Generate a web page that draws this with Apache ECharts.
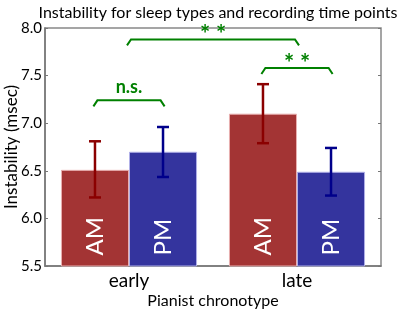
<!DOCTYPE html>
<html>
<head>
<meta charset="utf-8">
<script src="https://cdn.jsdelivr.net/npm/echarts@6/dist/echarts.min.js"></script>
<style>
  html, body { margin: 0; padding: 0; background: #fff; }
  #chart { width: 397px; height: 313px; }
</style>
</head>
<body>
<div id="chart"></div>
<script>
// Data
const categories = ['early', 'late'];
const amValues = [6.51, 7.10];
const pmValues = [6.70, 6.49];
const amErrLow = [6.22, 6.79];
const amErrHigh = [6.81, 7.41];
const pmErrLow = [6.435, 6.24];
const pmErrHigh = [6.96, 6.74];
const yTicks = [5.5, 6.0, 6.5, 7.0, 7.5, 8.0];

// significance brackets: from/to are positions on the category scale (0 = early, 1 = late)
const brackets = [
    { from: -0.2, to: 0.2, y: 7.24, label: 'n.s.' },
    { from: 0.8, to: 1.2, y: 7.58, label: '* *' },
    { from: 0, to: 1, y: 7.88, label: '* *' }
];

const font = 'Lato, "DejaVu Sans", sans-serif';
const catGap = 0.19;
const halfBar = (1 - catGap) / 4; // offset of each bar center from the category center

const chart = echarts.init(document.getElementById('chart'));

function errorSeries(name, low, high, offset, color) {
    return {
        name: name,
        type: 'custom',
        xAxisIndex: 1,
        z: 5,
        data: low.map((l, i) => [i + offset, l, high[i]]),
        renderItem: function (params, api) {
            const x = api.value(0);
            const top = api.coord([x, api.value(2)]);
            const bot = api.coord([x, api.value(1)]);
            const cap = 6;
            const style = { stroke: color, lineWidth: 2.5, fill: null };
            return {
                type: 'group',
                children: [
                    { type: 'line', shape: { x1: top[0], y1: top[1], x2: bot[0], y2: bot[1] }, style: style },
                    { type: 'line', shape: { x1: top[0] - cap, y1: top[1], x2: top[0] + cap, y2: top[1] }, style: style },
                    { type: 'line', shape: { x1: bot[0] - cap, y1: bot[1], x2: bot[0] + cap, y2: bot[1] }, style: style }
                ]
            };
        }
    };
}

const bracketSeries = {
    type: 'custom',
    xAxisIndex: 1,
    z: 6,
    data: brackets.map(b => [b.from, b.to, b.y]),
    renderItem: function (params, api) {
        const a = api.coord([api.value(0), api.value(2)]);
        const b = api.coord([api.value(1), api.value(2)]);
        const label = brackets[params.dataIndex].label;
        const stars = label.indexOf('*') >= 0;
        const style = { stroke: '#008000', lineWidth: 2, fill: null };
        return {
            type: 'group',
            children: [
                { type: 'polyline', shape: { points: [[a[0] - 2, a[1] + 6], [a[0] + 2, a[1]], [b[0] - 2, b[1]], [b[0] + 2, b[1] + 6]] }, style: style },
                { type: 'text', x: (a[0] + b[0]) / 2, y: stars ? a[1] + 8 : a[1] - 4, style: {
                    text: label, fill: '#008000', font: 'bold ' + (stars ? 24 : 18) + 'px ' + font,
                    align: 'center', verticalAlign: 'bottom'
                } }
            ]
        };
    }
};

const barLabel = {
    show: true,
    position: 'insideBottom',
    rotate: 90,
    align: 'left',
    verticalAlign: 'middle',
    distance: 11,
    color: '#fff',
    fontSize: 24,
    fontFamily: font
};

const option = {
    animation: false,
    title: {
        text: 'Instability for sleep types and recording time points',
        left: 213,
        textAlign: 'center',
        top: 0,
        textStyle: { fontSize: 16, fontWeight: 'normal', color: '#000', fontFamily: font }
    },
    grid: {
        left: 45, right: 16, top: 28, bottom: 47,
        outerBoundsMode: 'none', containLabel: false,
        show: true, borderColor: '#888', borderWidth: 1.5
    },
    xAxis: [{
        type: 'category',
        data: categories,
        name: 'Pianist chronotype',
        nameLocation: 'middle',
        nameGap: 27,
        nameMoveOverlap: false,
        nameTextStyle: { fontSize: 16, color: '#000', fontFamily: font },
        axisLine: { lineStyle: { color: '#777', width: 1.5 } },
        axisTick: { alignWithLabel: true, inside: true, length: 3, lineStyle: { color: '#777' } },
        axisLabel: { fontSize: 19, color: '#000', fontFamily: font, margin: 5 }
    }, {
        type: 'value',
        min: -0.5,
        max: 1.5,
        show: false
    }, {
        type: 'category',
        data: categories,
        position: 'top',
        axisLine: { show: false },
        axisTick: { alignWithLabel: true, inside: true, length: 3, lineStyle: { color: '#777' } },
        axisLabel: { show: false }
    }],
    yAxis: [{
        type: 'value',
        min: 5.5,
        max: 8.0,
        interval: 0.5,
        name: 'Instability (msec)',
        nameLocation: 'middle',
        nameGap: 25,
        nameMoveOverlap: false,
        nameTextStyle: { fontSize: 17, color: '#000', fontFamily: font },
        axisLine: { show: true, onZero: false, lineStyle: { color: '#777', width: 1.5 } },
        axisTick: { show: true, inside: true, length: 3, lineStyle: { color: '#777' } },
        axisLabel: {
            fontSize: 15, color: '#000', fontFamily: font, margin: 3,
            formatter: v => yTicks.includes(v) ? v.toFixed(1) : ''
        },
        splitLine: { show: false }
    }, {
        type: 'value',
        min: 5.5,
        max: 8.0,
        interval: 0.5,
        position: 'right',
        axisLine: { show: false, onZero: false },
        axisTick: { show: true, inside: true, length: 3, lineStyle: { color: '#777' } },
        axisLabel: { show: false },
        splitLine: { show: false }
    }],
    series: [{
        name: 'AM',
        type: 'bar',
        data: amValues,
        barGap: '0%',
        barCategoryGap: (catGap * 100) + '%',
        itemStyle: { color: '#a33434', borderColor: '#e8b0b0', borderWidth: 1 },
        label: Object.assign({ formatter: 'AM' }, barLabel)
    }, {
        name: 'PM',
        type: 'bar',
        data: pmValues,
        itemStyle: { color: '#34349e', borderColor: '#b0b0e8', borderWidth: 1 },
        label: Object.assign({ formatter: 'PM' }, barLabel)
    },
    errorSeries('AM err', amErrLow, amErrHigh, -halfBar, '#8b0000'),
    errorSeries('PM err', pmErrLow, pmErrHigh, halfBar, '#00008b'),
    bracketSeries]
};

chart.setOption(option);
</script>
</body>
</html>
